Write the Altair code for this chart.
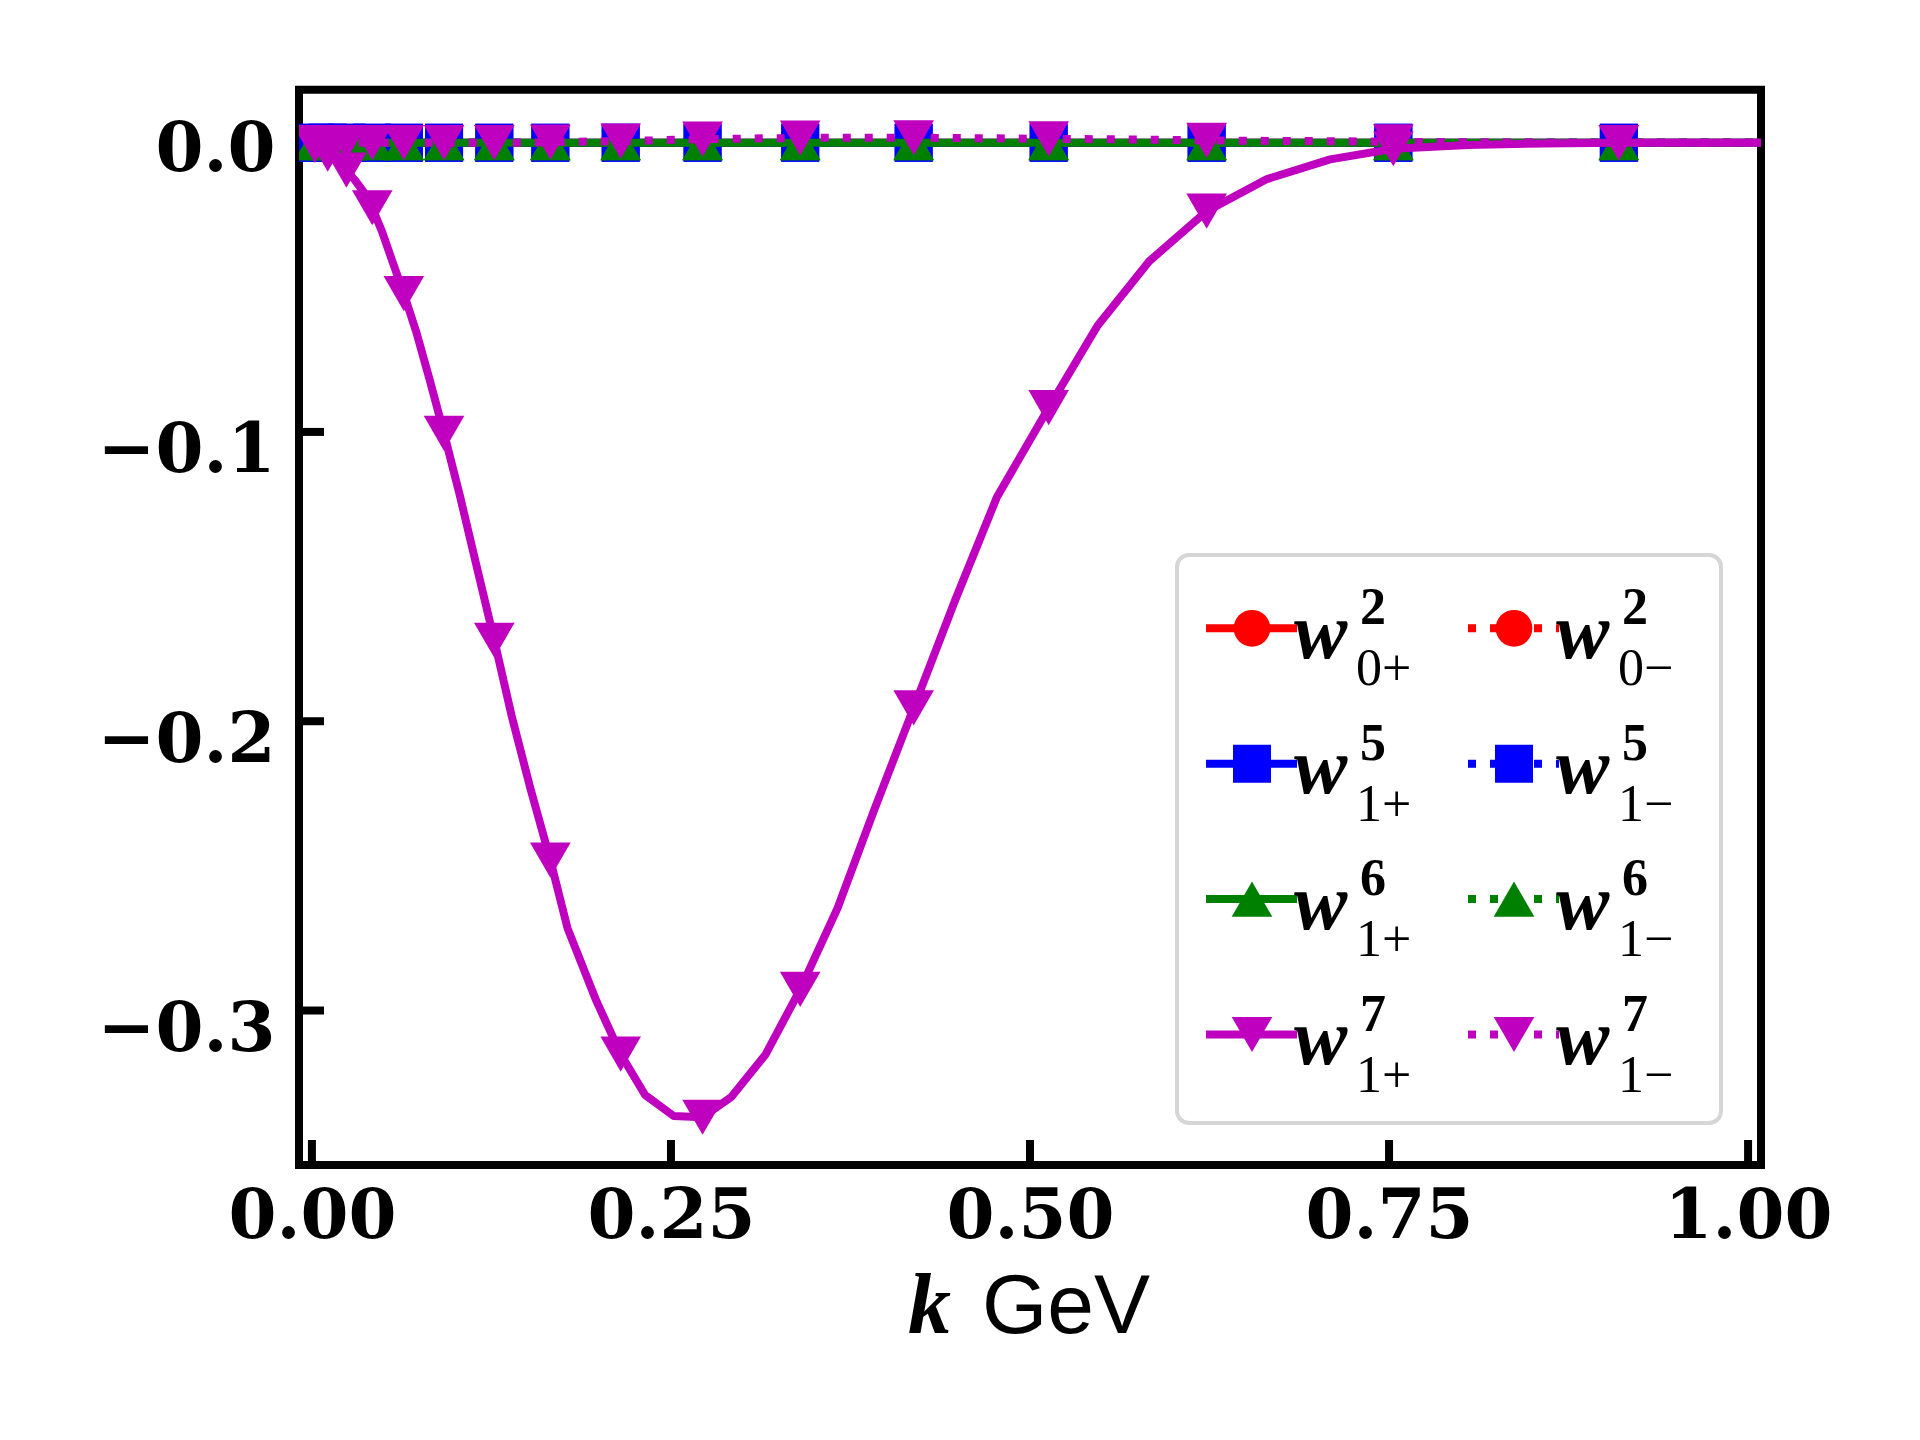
import altair as alt
import pandas as pd

# ---------------- data ----------------
k = [0.002, 0.005, 0.008, 0.011, 0.015, 0.019, 0.024, 0.030, 0.036, 0.042,
     0.049, 0.056, 0.064, 0.073, 0.082, 0.092, 0.103, 0.114, 0.127, 0.139,
     0.152, 0.166, 0.178, 0.198, 0.215, 0.232, 0.252, 0.272, 0.292, 0.316,
     0.340, 0.366, 0.391, 0.419, 0.448, 0.477, 0.513, 0.547, 0.583, 0.623,
     0.665, 0.709, 0.753, 0.805, 0.857, 0.910, 0.963, 1.018]

w7_plus = [-0.001, -0.002, -0.003, -0.004, -0.0055, -0.0075, -0.0095, -0.013, -0.017, -0.0225,
           -0.031, -0.041, -0.0522, -0.066, -0.082, -0.1005, -0.122, -0.145, -0.172, -0.198,
           -0.223, -0.248, -0.2716, -0.2966, -0.3151, -0.3292, -0.3365, -0.3369, -0.3299, -0.3151,
           -0.2927, -0.2646, -0.2313, -0.1954, -0.158, -0.1225, -0.0916, -0.0633, -0.041, -0.0237,
           -0.0126, -0.0058, -0.0021, -0.0008, -0.0003, 0.0, 0.0, 0.0]

w7_minus = [0.0, 0.0, 0.0, 0.0, 0.0, 0.0, 0.0, 0.0, 0.0, 0.0,
            0.0, 0.0, 0.0, 0.0, 0.0, 0.0, 0.0, 0.0, 0.0, 0.0,
            0.0, 0.0002, 0.0003, 0.0004, 0.0005, 0.0007, 0.001, 0.0012, 0.0013, 0.0015,
            0.0016, 0.0017, 0.0017, 0.0017, 0.0016, 0.0015, 0.0013, 0.0012, 0.001, 0.0008,
            0.0006, 0.0005, 0.0003, 0.0001, 0.0, 0.0, 0.0, 0.0]

w2_plus = [0.0, 0.0, 0.0, 0.0, 0.0, 0.0, 0.0, 0.0, 0.0, 0.0, 0.0, 0.0, 0.0, 0.0, 0.0, 0.0,
           0.0, 0.0, 0.0, 0.0, 0.0, 0.0, 0.0, 0.0, 0.0, 0.0, 0.0, 0.0, 0.0, 0.0, 0.0, 0.0,
           0.0, 0.0, 0.0, 0.0, 0.0, 0.0, 0.0, 0.0, 0.0, 0.0, 0.0, 0.0, 0.0, 0.0, 0.0, 0.0]
w2_minus = [0.0, 0.0, 0.0, 0.0, 0.0, 0.0, 0.0, 0.0, 0.0, 0.0, 0.0, 0.0, 0.0, 0.0, 0.0, 0.0,
            0.0, 0.0, 0.0, 0.0, 0.0, 0.0, 0.0, 0.0, 0.0, 0.0, 0.0, 0.0, 0.0, 0.0, 0.0, 0.0,
            0.0, 0.0, 0.0, 0.0, 0.0, 0.0, 0.0, 0.0, 0.0, 0.0, 0.0, 0.0, 0.0, 0.0, 0.0, 0.0]
w5_plus = [0.0, 0.0, 0.0, 0.0, 0.0, 0.0, 0.0, 0.0, 0.0, 0.0, 0.0, 0.0, 0.0, 0.0, 0.0, 0.0,
           0.0, 0.0, 0.0, 0.0, 0.0, 0.0, 0.0, 0.0, 0.0, 0.0, 0.0, 0.0, 0.0, 0.0, 0.0, 0.0,
           0.0, 0.0, 0.0, 0.0, 0.0, 0.0, 0.0, 0.0, 0.0, 0.0, 0.0, 0.0, 0.0, 0.0, 0.0, 0.0]
w5_minus = [0.0, 0.0, 0.0, 0.0, 0.0, 0.0, 0.0, 0.0, 0.0, 0.0, 0.0, 0.0, 0.0, 0.0, 0.0, 0.0,
            0.0, 0.0, 0.0, 0.0, 0.0, 0.0, 0.0, 0.0, 0.0, 0.0, 0.0, 0.0, 0.0, 0.0, 0.0, 0.0,
            0.0, 0.0, 0.0, 0.0, 0.0, 0.0, 0.0, 0.0, 0.0, 0.0, 0.0, 0.0, 0.0, 0.0, 0.0, 0.0]
w6_plus = [0.0, 0.0, 0.0, 0.0, 0.0, 0.0, 0.0, 0.0, 0.0, 0.0, 0.0, 0.0, 0.0, 0.0, 0.0, 0.0,
           0.0, 0.0, 0.0, 0.0, 0.0, 0.0, 0.0, 0.0, 0.0, 0.0, 0.0, 0.0, 0.0, 0.0, 0.0, 0.0,
           0.0, 0.0, 0.0, 0.0, 0.0, 0.0, 0.0, 0.0, 0.0, 0.0, 0.0, 0.0, 0.0, 0.0, 0.0, 0.0]
w6_minus = [0.0, 0.0, 0.0, 0.0, 0.0, 0.0, 0.0, 0.0, 0.0, 0.0, 0.0, 0.0, 0.0, 0.0, 0.0, 0.0,
            0.0, 0.0, 0.0, 0.0, 0.0, 0.0, 0.0, 0.0, 0.0, 0.0, 0.0, 0.0, 0.0, 0.0, 0.0, 0.0,
            0.0, 0.0, 0.0, 0.0, 0.0, 0.0, 0.0, 0.0, 0.0, 0.0, 0.0, 0.0, 0.0, 0.0, 0.0, 0.0]

series_ids = ["w2p", "w2m", "w5p", "w5m", "w6p", "w6m", "w7p", "w7m"]
series_vals = [w2_plus, w2_minus, w5_plus, w5_minus, w6_plus, w6_minus, w7_plus, w7_minus]
sup_labels = ["2", "2", "5", "5", "6", "6", "7", "7"]
sub_labels = ["0+", "0\u2212", "1+", "1\u2212", "1+", "1\u2212", "1+", "1\u2212"]

x_ticks = [0.0, 0.25, 0.5, 0.75, 1.0]
y_ticks = [0.0, -0.1, -0.2, -0.3]

# ---------------- styles ----------------
colors = ["#ff0000", "#ff0000", "#0000ff", "#0000ff", "#008000", "#008000", "#bf00bf", "#bf00bf"]
shapes = ["circle", "circle", "square", "square", "triangle-up", "triangle-up",
          "triangle-down", "triangle-down"]
sizes = {"circle": 1347, "square": 1444, "triangle-up": 1650, "triangle-down": 1650}
dotted = [False, True, False, True, False, True, False, True]
DASH = [8, 14]
LW = 8
SERIF = "Liberation Serif, serif"
SANS = "Liberation Sans, Arial, sans-serif"

W, H = 1462, 1075.3

rows = []
for sid, vals in zip(series_ids, series_vals):
    for i, (kk, vv) in enumerate(zip(k, vals)):
        rows.append({"s": sid, "i": i, "k": kk, "v": vv})
df = pd.DataFrame(rows)

xscale = alt.Scale(domain=[-0.009, 1.009], nice=False, zero=False)
yscale = alt.Scale(domain=[-0.3534, 0.0183], nice=False, zero=False)

xaxis = alt.Axis(values=x_ticks, format=".2f", title=None, domain=False, ticks=False,
                 tickSize=0, grid=False, labelFont="DejaVu Serif", labelFontWeight="bold",
                 labelFontSize=69, labelColor="black", labelPadding=72,
                 labelBaseline="alphabetic", labelFlush=False, labelOverlap=False)
yaxis = alt.Axis(values=y_ticks, format=".1f", title=None, domain=False, ticks=False,
                 tickSize=0, grid=False, labelFont="DejaVu Serif", labelFontWeight="bold",
                 labelFontSize=69, labelColor="black", labelPadding=24, labelAlign="right",
                 labelBaseline="alphabetic", labelFlush=False, labelOverlap=False,
                 labelOffset={"condition": {"test": "datum.value == 0", "value": 28}, "value": 40})


def X(field):
    return alt.X(field, type="quantitative", scale=xscale, axis=xaxis)


def Y(field):
    return alt.Y(field, type="quantitative", scale=yscale, axis=yaxis)


layers = []

# inward ticks
layers.append(alt.Chart(pd.DataFrame({"t": x_ticks})).mark_rule(color="black", strokeWidth=8)
              .encode(x=X("t"), y=alt.value(H), y2=alt.value(H - 25)))
layers.append(alt.Chart(pd.DataFrame({"t": y_ticks})).mark_rule(color="black", strokeWidth=8)
              .encode(y=Y("t"), x=alt.value(0), x2=alt.value(25)))

# series: line then markers (every third point)
for j, sid in enumerate(series_ids):
    line_kw = dict(color=colors[j], strokeWidth=LW, clip=True, strokeJoin="round")
    if dotted[j]:
        line_kw["strokeDash"] = DASH
    layers.append(alt.Chart(df).transform_filter(alt.datum.s == sid)
                  .mark_line(**line_kw)
                  .encode(x=X("k"), y=Y("v"), order=alt.Order("i:Q")))
    layers.append(alt.Chart(df).transform_filter(f"datum.s == '{sid}' && datum.i % 3 == 0")
                  .mark_point(shape=shapes[j], filled=True, size=sizes[shapes[j]],
                              color=colors[j], opacity=1, clip=True)
                  .encode(x=X("k"), y=Y("v")))

# x-axis title: "k GeV"
one = pd.DataFrame({"a": [0]})
layers.append(alt.Chart(one).mark_text(text="k", font=SERIF, fontStyle="italic",
                                       fontWeight="bold", fontSize=86, align="left",
                                       baseline="alphabetic", color="black")
              .encode(x=alt.value(609), y=alt.value(1243.3)))
layers.append(alt.Chart(one).mark_text(text="GeV", font=SANS, fontSize=84,
                                       align="left", baseline="alphabetic", color="black")
              .encode(x=alt.value(683), y=alt.value(1243.3)))

# legend box
layers.append(alt.Chart(one).mark_rect(fill="white", fillOpacity=0.8, stroke="#d6d6d6",
                                       strokeWidth=4, cornerRadius=12)
              .encode(x=alt.value(878), x2=alt.value(1422), y=alt.value(465.3),
                      y2=alt.value(1033.3)))

COL_DX = 262
ROW0, ROW_DY = 538.6, 135.4
for j in range(len(series_ids)):
    col, row = j % 2, j // 2
    dx = col * COL_DX
    ry = ROW0 + row * ROW_DY
    lkw = dict(color=colors[j], strokeWidth=LW)
    if dotted[j]:
        lkw["strokeDash"] = DASH
    layers.append(alt.Chart(one).mark_rule(**lkw)
                  .encode(x=alt.value(907 + dx), x2=alt.value(998 + dx), y=alt.value(ry)))
    layers.append(alt.Chart(one).mark_point(shape=shapes[j], filled=True,
                                            size=sizes[shapes[j]], color=colors[j], opacity=1)
                  .encode(x=alt.value(953 + dx), y=alt.value(ry)))
    layers.append(alt.Chart(one).mark_text(text="w", font=SERIF, fontStyle="italic",
                                           fontWeight="bold", fontSize=80, align="left",
                                           baseline="alphabetic", color="black")
                  .encode(x=alt.value(995 + dx), y=alt.value(ry + 29.7)))
    layers.append(alt.Chart(one).mark_text(text=sup_labels[j], font=SERIF,
                                           fontWeight="bold", fontSize=52, align="left",
                                           baseline="alphabetic", color="black")
                  .encode(x=alt.value(1061 + dx), y=alt.value(ry - 4)))
    layers.append(alt.Chart(one).mark_text(text=sub_labels[j], font=SERIF,
                                           fontSize=52, align="left",
                                           baseline="alphabetic", color="black")
                  .encode(x=alt.value(1057 + dx), y=alt.value(ry + 57)))

chart = (alt.layer(*layers)
         .properties(width=W, height=H,
                     autosize=alt.AutoSizeParams(type="none"),
                     padding={"left": 291, "top": 81.7, "right": 151, "bottom": 267})
         .configure_view(stroke="black", strokeWidth=8))

chart.save("out.html", embed_options={"renderer": "svg", "actions": False})
